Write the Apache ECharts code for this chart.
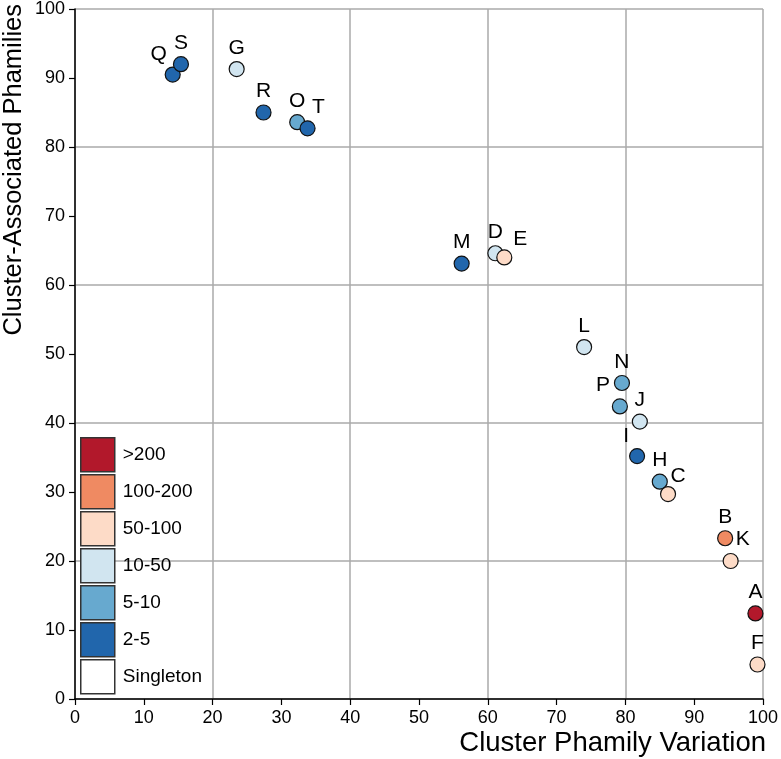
<!DOCTYPE html>
<html>
<head>
<meta charset="utf-8">
<script src="https://cdn.jsdelivr.net/npm/echarts@6/dist/echarts.min.js"></script>
<style>html,body{margin:0;padding:0;background:#fff;}#chart{width:781px;height:759px;}</style>
</head>
<body>
<div id="chart"></div>
<script>
// ---- data ----
var clusterNames = ['A','B','C','D','E','F','G','H','I','J','K','L','M','N','O','P','Q','R','S','T'];
var phamilyVariation = [98.9, 94.5, 86.2, 61.1, 62.4, 99.2, 23.5, 85.0, 81.7, 82.1, 95.3, 74.0, 56.2, 79.5, 32.3, 79.2, 14.2, 27.4, 15.4, 33.8];
var associatedPhamilies = [12.4, 23.3, 29.7, 64.6, 64.0, 5.0, 91.3, 31.5, 35.2, 40.2, 20.0, 51.0, 63.1, 45.8, 83.6, 42.4, 90.5, 85.0, 92.0, 82.7];
var sizeClass = ['>200','100-200','50-100','10-50','50-100','50-100','10-50','5-10','2-5','10-50','50-100','10-50','2-5','5-10','5-10','5-10','2-5','2-5','2-5','2-5'];
var legendClasses = ['>200','100-200','50-100','10-50','5-10','2-5','Singleton'];
var xTicks = [0,10,20,30,40,50,60,70,80,90,100];
var yTicks = [0,10,20,30,40,50,60,70,80,90,100];

// ---- style ----
var classColors = {
  '>200': '#b2182b', '100-200': '#ef8a62', '50-100': '#fddbc7',
  '10-50': '#d1e5f0', '5-10': '#67a9cf', '2-5': '#2166ac', 'Singleton': '#ffffff'
};
var drawOrder = ['Singleton','10-50','5-10','2-5','50-100','100-200','>200'];
var labelOffset = {
  Q: [-14, -20], T: [11, -21], E: [16, -18], P: [-17, -21], I: [-11, -20],
  C: [10, -18], K: [12, -22]
};
var defaultOffset = [0, -21];
var FONT = '"Liberation Sans", Arial, Helvetica, sans-serif';

var series = drawOrder.map(function (cls) {
  var pts = [];
  clusterNames.forEach(function (n, i) {
    if (sizeClass[i] === cls) {
      pts.push({ name: n, value: [phamilyVariation[i], associatedPhamilies[i]],
        label: { offset: labelOffset[n] || defaultOffset } });
    }
  });
  return {
    name: cls, type: 'scatter', symbol: 'circle', symbolSize: 15, data: pts,
    itemStyle: { color: classColors[cls], borderColor: '#111', borderWidth: 1.2, opacity: 1 },
    label: { show: true, position: 'inside', formatter: '{b}', color: '#000', fontSize: 21, fontFamily: FONT },
    emphasis: { disabled: true }
  };
});

var chart = echarts.init(document.getElementById('chart'), null, { renderer: 'canvas' });
chart.setOption({
  animation: false,
  backgroundColor: '#fff',
  grid: { left: 75, right: 15, top: 8, bottom: 60, containLabel: false },
  legend: {
    data: legendClasses, orient: 'vertical', left: 80, top: 437, padding: 0,
    itemWidth: 34, itemHeight: 34, itemGap: 1.5, icon: 'rect',
    itemStyle: { borderColor: '#333', borderWidth: 1.5 },
    textStyle: { fontSize: 19, color: '#000', fontFamily: FONT, padding: [0, 0, 0, 3] },
    selectedMode: false
  },
  xAxis: {
    type: 'value', min: xTicks[0], max: xTicks[xTicks.length - 1], interval: 10,
    name: 'Cluster Phamily Variation', nameLocation: 'end', nameGap: 3,
    nameTextStyle: { fontSize: 27.5, color: '#000', fontFamily: FONT, align: 'right', verticalAlign: 'top', padding: [30, 0, 0, 0] },
    axisLine: { show: true, onZero: false, lineStyle: { color: '#000', width: 1.5 } },
    axisTick: { show: true, inside: false, length: 6, lineStyle: { color: '#000', width: 1.2 } },
    axisLabel: { fontSize: 18, color: '#000', fontFamily: FONT, margin: 10 },
    splitLine: { show: true, lineStyle: { color: ['#aaaaaa', 'rgba(0,0,0,0)'], width: 1.5 } }
  },
  yAxis: {
    type: 'value', min: yTicks[0], max: yTicks[yTicks.length - 1], interval: 10,
    name: 'Cluster-Associated Phamilies', nameLocation: 'end', nameGap: 5, nameRotate: 90,
    nameTextStyle: { fontSize: 25.5, color: '#000', fontFamily: FONT, align: 'right', verticalAlign: 'bottom', padding: [0, 0, 48, 0] },
    axisLine: { show: true, onZero: false, lineStyle: { color: '#000', width: 1.5 } },
    axisTick: { show: true, inside: false, length: 6, lineStyle: { color: '#000', width: 1.2 } },
    axisLabel: { fontSize: 18, color: '#000', fontFamily: FONT, margin: 10 },
    splitLine: { show: true, lineStyle: { color: ['#aaaaaa', 'rgba(0,0,0,0)'], width: 1.5 } }
  },
  series: series
});
</script>
</body>
</html>
